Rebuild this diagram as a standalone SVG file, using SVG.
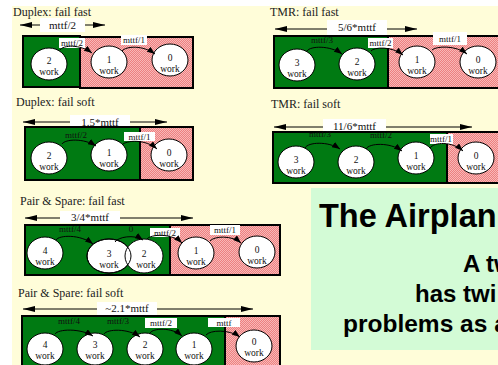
<svg xmlns="http://www.w3.org/2000/svg" width="498" height="365" viewBox="0 0 498 365">
<style>
.ttl{font-family:"Liberation Serif","Times New Roman",serif;font-size:12px;fill:#222}
.span{font-family:"Liberation Serif","Times New Roman",serif;font-size:11px;fill:#111;text-anchor:middle}
.lb{font-family:"Liberation Serif","Times New Roman",serif;font-size:9px;fill:#111;text-anchor:middle}
.nt{font-family:"Liberation Serif","Times New Roman",serif;font-size:9.5px;fill:#111;text-anchor:middle}
.g{fill:#007a12;stroke:#000;stroke-width:2}
.p{fill:url(#pk);stroke:#000;stroke-width:2}
.c{fill:#fff;stroke:#000;stroke-width:1}
.wb{fill:#fff}
.dbl{stroke:#000;stroke-width:1;fill:none;marker-start:url(#ah);marker-end:url(#ah)}
.arc{stroke:#000;stroke-width:1;fill:none;marker-end:url(#ch)}
.big{font-family:"Liberation Sans",Arial,sans-serif;font-weight:bold;fill:#000}
</style>
<defs>
<pattern id="pk" width="2" height="2" patternUnits="userSpaceOnUse">
<rect width="2" height="2" fill="#ed8080"/>
<rect width="1" height="1" fill="#f8b8b8"/>
<rect x="1" y="1" width="1" height="1" fill="#f8b8b8"/>
</pattern>
<marker id="ah" markerWidth="12" markerHeight="6" refX="12" refY="3" orient="auto-start-reverse" markerUnits="userSpaceOnUse">
<path d="M0,0 L12,3 L0,6 z" fill="#000"/>
</marker>
<marker id="ch" markerWidth="8" markerHeight="6" refX="8" refY="3" orient="auto" markerUnits="userSpaceOnUse">
<path d="M0,0 L8,3 L0,6 z" fill="#000"/>
</marker>
</defs>
<rect width="498" height="365" fill="#fff"/>
<rect x="12" y="6" width="486" height="359" fill="#fffdd9"/>

<g id="panel-duplex-fast">
<text class="ttl" x="13" y="16">Duplex: fail fast</text>
<path class="dbl" d="M20,25 H105"/>
<rect class="wb" x="40" y="18" width="45" height="14"/>
<text class="span" x="62.5" y="29">mttf/2</text>
<rect class="g" x="23" y="36" width="57" height="51"/>
<rect class="p" x="80" y="37" width="113" height="51"/>
</g>
<g id="panel-duplex-soft">
<text class="ttl" x="16" y="106">Duplex: fail soft</text>
<path class="dbl" d="M23,122 H167"/>
<rect class="wb" x="70" y="115" width="60" height="13"/>
<text class="span" x="100" y="126">1.5*mttf</text>
<rect class="g" x="25" y="127" width="115" height="53"/>
<rect class="p" x="140" y="127" width="53" height="53"/>
</g>
<g id="panel-tmr-fast">
<text class="ttl" x="270" y="16">TMR: fail fast</text>
<path class="dbl" d="M275,29 H417"/>
<rect class="wb" x="327" y="20" width="60" height="15"/>
<text class="span" x="357" y="31">5/6*mttf</text>
<rect class="g" x="274" y="36" width="114" height="52"/>
<rect class="p" x="388" y="36" width="114" height="52"/>
</g>
<g id="panel-tmr-soft">
<text class="ttl" x="271" y="108">TMR: fail soft</text>
<path class="dbl" d="M274,127 H472"/>
<rect class="wb" x="323" y="119" width="63" height="13"/>
<text class="span" x="354.5" y="130">11/6*mttf</text>
<rect class="g" x="273" y="132" width="174" height="51"/>
<rect class="p" x="447" y="132" width="55" height="51"/>
</g>
<g id="panel-ps-fast">
<text class="ttl" x="20" y="205">Pair &amp; Spare: fail fast</text>
<path class="dbl" d="M25,218 H193"/>
<rect class="wb" x="60" y="211" width="60" height="12"/>
<text class="span" x="90" y="221">3/4*mttf</text>
<rect class="g" x="25" y="225" width="145" height="50"/>
<rect class="p" x="170" y="225" width="110" height="50"/>
</g>
<g id="panel-ps-soft">
<text class="ttl" x="18" y="297">Pair &amp; Spare: fail soft</text>
<path class="dbl" d="M23,309 H253"/>
<rect class="wb" x="97" y="302" width="60" height="13"/>
<text class="span" x="127" y="312">~2.1*mttf</text>
<rect class="g" x="22" y="316" width="203" height="60"/>
<rect class="p" x="225" y="316" width="55" height="60"/>
</g>

<g id="n-df-2"><ellipse class="c" cx="49" cy="64" rx="18" ry="16"/><text class="nt" x="49" y="64">2</text><text class="nt" x="49" y="75">work</text></g>
<g id="n-df-1"><ellipse class="c" cx="109" cy="62" rx="18" ry="16"/><text class="nt" x="109" y="63">1</text><text class="nt" x="109" y="74">work</text></g>
<g id="n-df-0"><ellipse class="c" cx="170" cy="60" rx="18" ry="16"/><text class="nt" x="170" y="61">0</text><text class="nt" x="170" y="72">work</text></g>

<g id="n-ds-2"><ellipse class="c" cx="49" cy="158" rx="18" ry="16"/><text class="nt" x="49" y="159">2</text><text class="nt" x="49" y="170">work</text></g>
<g id="n-ds-1"><ellipse class="c" cx="109" cy="155" rx="18" ry="16"/><text class="nt" x="109" y="156">1</text><text class="nt" x="109" y="167">work</text></g>
<g id="n-ds-0"><ellipse class="c" cx="169" cy="155" rx="18" ry="16"/><text class="nt" x="169" y="156">0</text><text class="nt" x="169" y="167">work</text></g>

<g id="n-tf-3"><ellipse class="c" cx="297" cy="65" rx="18" ry="16"/><text class="nt" x="297" y="66">3</text><text class="nt" x="297" y="77">work</text></g>
<g id="n-tf-2"><ellipse class="c" cx="357" cy="64" rx="18" ry="16"/><text class="nt" x="357" y="65">2</text><text class="nt" x="357" y="76">work</text></g>
<g id="n-tf-1"><ellipse class="c" cx="417" cy="62" rx="18" ry="16"/><text class="nt" x="417" y="63">1</text><text class="nt" x="417" y="74">work</text></g>
<g id="n-tf-0"><ellipse class="c" cx="478" cy="62" rx="18" ry="16"/><text class="nt" x="478" y="63">0</text><text class="nt" x="478" y="74">work</text></g>

<g id="n-ts-3"><ellipse class="c" cx="296" cy="162" rx="18" ry="16"/><text class="nt" x="296" y="163">3</text><text class="nt" x="296" y="174">work</text></g>
<g id="n-ts-2"><ellipse class="c" cx="356" cy="162" rx="18" ry="16"/><text class="nt" x="356" y="163">2</text><text class="nt" x="356" y="174">work</text></g>
<g id="n-ts-1"><ellipse class="c" cx="416" cy="158" rx="18" ry="16"/><text class="nt" x="416" y="159">1</text><text class="nt" x="416" y="170">work</text></g>
<g id="n-ts-0"><ellipse class="c" cx="476" cy="158" rx="18" ry="16"/><text class="nt" x="476" y="159">0</text><text class="nt" x="476" y="170">work</text></g>

<g id="n-pf-4"><ellipse class="c" cx="45" cy="253" rx="18" ry="16"/><text class="nt" x="45" y="254">4</text><text class="nt" x="45" y="265">work</text></g>
<g id="n-pf-3"><ellipse class="c" cx="109" cy="256" rx="22" ry="17"/></g>
<g id="n-pf-2"><ellipse class="c" cx="144" cy="256" rx="19" ry="17"/><ellipse cx="109" cy="256" rx="22" ry="17" fill="none" stroke="#000" stroke-width="1"/><text class="nt" x="109" y="257">3</text><text class="nt" x="109" y="268">work</text><text class="nt" x="144" y="257">2</text><text class="nt" x="146" y="268">work</text></g>
<g id="n-pf-1"><ellipse class="c" cx="196" cy="253" rx="18" ry="16"/><text class="nt" x="196" y="254">1</text><text class="nt" x="196" y="265">work</text></g>
<g id="n-pf-0"><ellipse class="c" cx="257" cy="252" rx="18" ry="16"/><text class="nt" x="257" y="253">0</text><text class="nt" x="257" y="264">work</text></g>

<g id="n-ps-4"><ellipse class="c" cx="45" cy="349" rx="18" ry="16"/><text class="nt" x="45" y="348">4</text><text class="nt" x="45" y="359">work</text></g>
<g id="n-ps-3"><ellipse class="c" cx="95" cy="349" rx="18" ry="16"/><text class="nt" x="95" y="348">3</text><text class="nt" x="95" y="359">work</text></g>
<g id="n-ps-2"><ellipse class="c" cx="145" cy="349" rx="18" ry="16"/><text class="nt" x="145" y="348">2</text><text class="nt" x="145" y="359">work</text></g>
<g id="n-ps-1"><ellipse class="c" cx="194" cy="349" rx="18" ry="16"/><text class="nt" x="194" y="348">1</text><text class="nt" x="194" y="359">work</text></g>
<g id="n-ps-0"><ellipse class="c" cx="254" cy="346" rx="18" ry="16"/><text class="nt" x="254" y="345">0</text><text class="nt" x="254" y="356">work</text></g>

<g id="connectors">
<rect class="wb" x="59" y="38" width="26" height="10"/><text class="lb" x="72" y="46">mttf/2</text>
<path class="arc" d="M60,50 C63,45 80,44 92,53"/>
<rect class="wb" x="121" y="35" width="26" height="10"/><text class="lb" x="134" y="43">mttf/1</text>
<path class="arc" d="M122,51 C126,46 143,45 155,54"/>

<text class="lb" x="76" y="138">mttf/2</text>
<path class="arc" d="M62,144 C65,139 84,138 96,146"/>
<rect class="wb" x="124" y="132" width="31" height="9"/><text class="lb" x="139.5" y="140">mttf/1</text>
<path class="arc" d="M122,145 C126,140 146,139 157,149"/>

<text class="lb" x="322" y="43">mttf/3</text>
<path class="arc" d="M307,51 C310,46 330,45 342,54"/>
<rect class="wb" x="368" y="38" width="25" height="10"/><text class="lb" x="380.5" y="46">mttf/2</text>
<path class="arc" d="M371,51 C374,47 392,46 403,55"/>
<rect class="wb" x="433" y="32" width="34" height="13"/><text class="lb" x="450" y="42">mttf/1</text>
<path class="arc" d="M432,50 C436,46 456,45 467,54"/>

<text class="lb" x="320" y="137">mttf/3</text>
<path class="arc" d="M305,148 C308,142 328,141 340,149"/>
<text class="lb" x="381" y="138">mttf/2</text>
<path class="arc" d="M366,149 C369,143 390,142 402,151"/>
<rect class="wb" x="430" y="134" width="23" height="10"/><text class="lb" x="441" y="142">mttf/1</text>
<path class="arc" d="M430,148 C434,142 452,141 463,151"/>

<text class="lb" x="70" y="232">mttf/4</text>
<path class="arc" d="M56,240 C59,235 80,234 93,244"/>
<text class="lb" x="131" y="232">0</text>
<path class="arc" d="M115,242 C118,237 134,234 143,240"/>
<rect class="wb" x="150" y="228" width="30" height="9"/><text class="lb" x="165" y="236">mttf/2</text>
<path class="arc" d="M147,239 C151,234 172,233 182,243"/>
<rect class="wb" x="210" y="225" width="30" height="10"/><text class="lb" x="225" y="233">mttf/1</text>
<path class="arc" d="M210,241 C214,236 232,235 241,243"/>

<text class="lb" x="69" y="324">mttf/4</text>
<path class="arc" d="M55,334 C58,329 80,328 93,336"/>
<text class="lb" x="118" y="324">mttf/3</text>
<path class="arc" d="M104,334 C107,329 128,328 140,337"/>
<rect class="wb" x="145" y="318" width="32" height="10"/><text class="lb" x="161" y="326">mttf/2</text>
<path class="arc" d="M150,333 C153,328 172,327 182,336"/>
<rect class="wb" x="208" y="318" width="32" height="9"/><text class="lb" x="224" y="326">mttf</text>
<path class="arc" d="M206,335 C210,330 229,329 240,337"/>
</g>

<g id="airplane-box">
<rect x="311" y="188" width="200" height="162" fill="#d3fbd6"/>
<text class="big" x="319" y="227" font-size="32.5">The Airplan</text>
<text class="big" x="463" y="272" font-size="24">A tw</text>
<text class="big" x="415" y="302" font-size="24">has twi</text>
<text class="big" x="343" y="332" font-size="24.5">problems as a</text>
</g>
</svg>
